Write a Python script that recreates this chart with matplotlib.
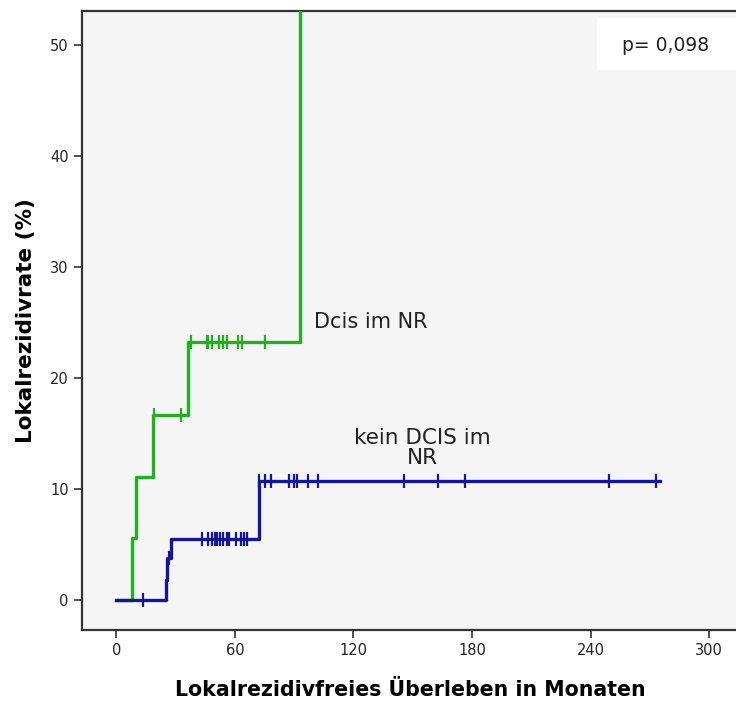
import matplotlib
matplotlib.use("Agg")
import matplotlib.pyplot as plt
from matplotlib.patches import Rectangle

# Kaplan-Meier style step curves (cumulative local recurrence rate, %)
dcis_t = [0, 7.8, 9.8, 18.5, 36.5, 93.2]
dcis_v = [0, 5.6, 11.1, 16.7, 23.2, 100]
dcis_end = 93.2
dcis_cens_t = [18.9, 32.6, 37.6, 45.7, 46.4, 48.6, 51.9, 54.2, 56.2, 61.6, 63.8, 75.5]
dcis_cens_v = [16.7, 16.7, 23.2, 23.2, 23.2, 23.2, 23.2, 23.2, 23.2, 23.2, 23.2, 23.2]

kein_t = [0, 25.0, 25.9, 27.5, 72.0]
kein_v = [0, 1.8, 3.8, 5.5, 10.7]
kein_end = 275
kein_cens_t = [13.4, 26.6, 43.5, 46.4, 48.6, 49.9, 51.1, 52.4, 54.1, 55.8, 57.0, 60.4,
               62.9, 64.6, 66.3, 72.1, 75.5, 78.5, 87.3, 89.8, 91.5, 96.9, 101.9,
               145.8, 163.0, 176.3, 249.4, 273.0]
kein_cens_v = [0, 3.8] + [5.5] * 13 + [10.7] * 13

xticks = [0, 60, 120, 180, 240, 300]
yticks = [0, 10, 20, 30, 40, 50]

green = "#22b022"
blue = "#15159a"

fig = plt.figure(figsize=(7.36, 7.02), dpi=100)
ax = fig.add_axes([82 / 736, 72 / 702, 657 / 736, 619 / 702])
ax.set_facecolor("#f5f5f5")

ax.step(dcis_t + [dcis_end], dcis_v + [dcis_v[-1]], where="post", color=green, lw=2.4, zorder=3)
ax.plot(dcis_cens_t, dcis_cens_v, ls="none", marker="|", ms=10, mew=1.6, color=green, zorder=3)

ax.step(kein_t + [kein_end], kein_v + [kein_v[-1]], where="post", color=blue, lw=2.4, zorder=3)
ax.plot(kein_cens_t, kein_cens_v, ls="none", marker="|", ms=10, mew=1.6, color=blue, zorder=3)

ax.set_xlim(-17.3, 315)
ax.set_ylim(-2.7, 53.06)
ax.set_xticks(xticks)
ax.set_yticks(yticks)
ax.tick_params(direction="out", length=6, width=1.2, color="#333333", labelsize=10.5,
               labelcolor="#222222")
for s in ["left", "bottom", "top"]:
    ax.spines[s].set_linewidth(1.6)
    ax.spines[s].set_color("#333333")
ax.spines["right"].set_visible(False)

ax.set_xlabel("Lokalrezidivfreies Überleben in Monaten", fontsize=14.8, fontweight="bold",
              labelpad=16)
ax.set_ylabel("Lokalrezidivrate (%)", fontsize=15.5, fontweight="bold", labelpad=10)

ax.text(100, 25, "Dcis im NR", fontsize=15, color="#222222", ha="left", va="center")
ax.text(155, 13.7, "kein DCIS im\nNR", fontsize=15.5, color="#222222", ha="center",
        va="center", linespacing=0.95)

ax.add_patch(Rectangle((0.784, 0.905), 0.3, 0.084, transform=ax.transAxes,
                       facecolor="white", edgecolor="none", zorder=4))
ax.text(0.888, 0.945, "p= 0,098", transform=ax.transAxes, fontsize=13.5,
        color="#222222", ha="center", va="center", zorder=5)

fig.savefig("out.png", dpi=100)
